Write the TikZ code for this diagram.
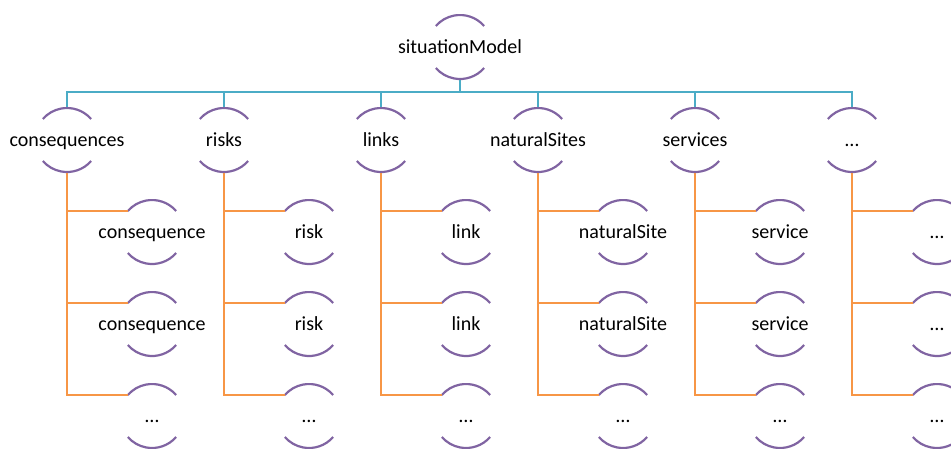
\documentclass[tikz,border=0pt]{standalone}
\usepackage{fontspec}
\setmainfont{Carlito}
\usepackage{xcolor}
\usepackage{tikz}
\definecolor{arcpurple}{HTML}{8064A2}
\definecolor{linkblue}{HTML}{4BACC6}
\definecolor{linkorange}{HTML}{F79646}

\begin{document}
\begin{tikzpicture}[
  x=1pt, y=-1pt,
  elem/.style={inner sep=0pt, outer sep=0pt, minimum width=52pt, minimum height=66pt,
    font=\fontsize{20}{24}\selectfont, text height=15pt, text depth=2pt,
    path picture={\draw[arcpurple, line width=2.2pt]
      ([shift={(41:32pt)}]path picture bounding box.center) arc[start angle=41, end angle=139, radius=32pt]
      ([shift={(-41:32pt)}]path picture bounding box.center) arc[start angle=-41, end angle=-139, radius=32pt];}},
  bluelink/.style={linkblue, line width=2pt},
  orangelink/.style={linkorange, line width=2.5pt}
]
\useasboundingbox (0,0) rectangle (951,448);
\node[elem] (sitmodel) at (460,47) {situationModel};
\node[elem] (cons) at (67,140) {consequences};
\node[elem] (risks) at (224,140) {risks};
\node[elem] (links) at (381,140) {links};
\node[elem] (natsites) at (538,140) {naturalSites};
\node[elem] (services) at (695,140) {services};
\node[elem] (more) at (852,140) {…};
\node[elem] (cons1) at (152,232) {consequence};
\node[elem] (cons2) at (152,324) {consequence};
\node[elem] (cons3) at (152,416) {…};
\node[elem] (risk1) at (309,232) {risk};
\node[elem] (risk2) at (309,324) {risk};
\node[elem] (risk3) at (309,416) {…};
\node[elem] (link1) at (466,232) {link};
\node[elem] (link2) at (466,324) {link};
\node[elem] (link3) at (466,416) {…};
\node[elem] (natsite1) at (623,232) {naturalSite};
\node[elem] (natsite2) at (623,324) {naturalSite};
\node[elem] (natsite3) at (623,416) {…};
\node[elem] (service1) at (780,232) {service};
\node[elem] (service2) at (780,324) {service};
\node[elem] (service3) at (780,416) {…};
\node[elem] (more1) at (937,232) {…};
\node[elem] (more2) at (937,324) {…};
\node[elem] (more3) at (937,416) {…};
\draw[bluelink] (sitmodel.south) -- ++(0,12) -| (cons.north);
\draw[bluelink] (sitmodel.south) -- ++(0,12) -| (risks.north);
\draw[bluelink] (sitmodel.south) -- ++(0,12) -| (links.north);
\draw[bluelink] (sitmodel.south) -- ++(0,12) -| (natsites.north);
\draw[bluelink] (sitmodel.south) -- ++(0,12) -| (services.north);
\draw[bluelink] (sitmodel.south) -- ++(0,12) -| (more.north);
\draw[orangelink] (cons.south) |- ([shift={(139:32pt)}]cons1.center);
\draw[orangelink] (cons.south) |- ([shift={(139:32pt)}]cons2.center);
\draw[orangelink] (cons.south) |- ([shift={(139:32pt)}]cons3.center);
\draw[orangelink] (risks.south) |- ([shift={(139:32pt)}]risk1.center);
\draw[orangelink] (risks.south) |- ([shift={(139:32pt)}]risk2.center);
\draw[orangelink] (risks.south) |- ([shift={(139:32pt)}]risk3.center);
\draw[orangelink] (links.south) |- ([shift={(139:32pt)}]link1.center);
\draw[orangelink] (links.south) |- ([shift={(139:32pt)}]link2.center);
\draw[orangelink] (links.south) |- ([shift={(139:32pt)}]link3.center);
\draw[orangelink] (natsites.south) |- ([shift={(139:32pt)}]natsite1.center);
\draw[orangelink] (natsites.south) |- ([shift={(139:32pt)}]natsite2.center);
\draw[orangelink] (natsites.south) |- ([shift={(139:32pt)}]natsite3.center);
\draw[orangelink] (services.south) |- ([shift={(139:32pt)}]service1.center);
\draw[orangelink] (services.south) |- ([shift={(139:32pt)}]service2.center);
\draw[orangelink] (services.south) |- ([shift={(139:32pt)}]service3.center);
\draw[orangelink] (more.south) |- ([shift={(139:32pt)}]more1.center);
\draw[orangelink] (more.south) |- ([shift={(139:32pt)}]more2.center);
\draw[orangelink] (more.south) |- ([shift={(139:32pt)}]more3.center);
\end{tikzpicture}
\end{document}
